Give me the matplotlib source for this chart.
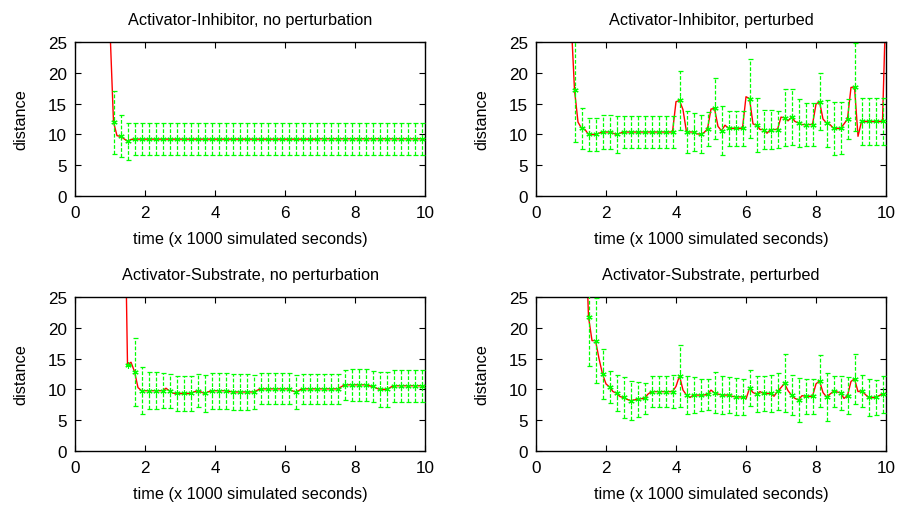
import numpy as np
import matplotlib
matplotlib.use("Agg")
import matplotlib.pyplot as plt

plt.rcParams['font.family'] = ['Liberation Sans', 'DejaVu Sans']

titles = ["Activator-Inhibitor, no perturbation", "Activator-Inhibitor, perturbed",
          "Activator-Substrate, no perturbation", "Activator-Substrate, perturbed"]
xlabel = "time (x 1000 simulated seconds)"
ylabel = "distance"
xticks = [0, 2, 4, 6, 8, 10]
yticks = [0, 5, 10, 15, 20, 25]

# mean distance sampled every 0.1 (x1000 s); start times per panel
line_start = [1.0, 1.0, 1.4, 1.4]

ai_plain_line = [
    27.0, 12.0, 9.8, 9.7, 9.3, 8.9, 9.2, 9.25, 9.25, 9.25,
    9.25, 9.25, 9.25, 9.25, 9.25, 9.25, 9.25, 9.25, 9.25, 9.25,
    9.25, 9.25, 9.25, 9.25, 9.25, 9.25, 9.25, 9.25, 9.25, 9.25,
    9.25, 9.25, 9.25, 9.25, 9.25, 9.25, 9.25, 9.25, 9.25, 9.25,
    9.25, 9.25, 9.25, 9.25, 9.25, 9.25, 9.25, 9.25, 9.25, 9.25,
    9.25, 9.25, 9.25, 9.25, 9.25, 9.25, 9.25, 9.25, 9.25, 9.25,
    9.3, 9.3, 9.3, 9.3, 9.3, 9.3, 9.3, 9.3, 9.3, 9.3,
    9.3, 9.3, 9.3, 9.3, 9.3, 9.3, 9.3, 9.3, 9.3, 9.3,
    9.3, 9.3, 9.3, 9.3, 9.3, 9.3, 9.3, 9.3, 9.3, 9.3,
    9.3]

ai_pert_line = [
    29.0, 17.2, 12.0, 11.0, 10.8, 10.0, 10.0, 10.0, 10.2, 10.4,
    10.4, 10.4, 10.2, 10.0, 10.2, 10.4, 10.4, 10.4, 10.4, 10.4,
    10.4, 10.4, 10.4, 10.4, 10.4, 10.4, 10.4, 10.4, 10.4, 10.4,
    15.3, 15.5, 14.0, 10.4, 10.4, 10.4, 10.1, 10.05, 10.3, 10.9,
    14.1, 14.2, 11.3, 10.6, 11.5, 11.0, 11.0, 11.0, 11.0, 11.0,
    16.1, 15.8, 11.7, 11.5, 10.8, 10.8, 10.2, 10.8, 10.8, 10.8,
    12.8, 12.7, 12.2, 12.8, 12.1, 11.85, 11.6, 11.6, 11.6, 11.6,
    14.9, 15.3, 12.5, 11.85, 11.6, 11.0, 11.0, 11.0, 11.7, 12.5,
    17.6, 17.7, 9.7, 12.1, 12.1, 12.1, 12.1, 12.1, 12.1, 12.1,
    32.0]

as_plain_line = [
    50.0, 14.0, 14.4, 12.9, 10.3, 9.8,
    9.8, 9.8, 9.8, 9.8, 9.8, 9.8, 10.2, 9.75, 9.4, 9.35,
    9.35, 9.35, 9.35, 9.35, 9.6, 9.8, 9.6, 9.35, 9.6, 9.8,
    9.8, 9.8, 9.8, 9.8, 9.7, 9.6, 9.6, 9.6, 9.6, 9.6,
    9.6, 9.6, 9.85, 10.1, 10.1, 10.1, 10.1, 10.1, 10.1, 10.1,
    10.1, 10.1, 9.8, 9.6, 9.85, 10.1, 10.1, 10.1, 10.1, 10.1,
    10.1, 10.1, 10.1, 10.1, 10.1, 10.1, 10.4, 10.75, 10.75, 10.75,
    10.75, 10.75, 10.75, 10.75, 10.6, 10.5, 10.25, 10.0, 10.0, 10.0,
    10.3, 10.6, 10.6, 10.6, 10.6, 10.6, 10.6, 10.6, 10.6, 10.6,
    10.6]

as_pert_line = [
    38.0, 21.75, 17.9, 17.9, 15.0, 12.5,
    10.9, 10.4, 9.65, 9.4, 8.85, 8.7, 8.4, 8.2, 8.3, 8.4,
    8.5, 8.6, 9.25, 9.65, 9.65, 9.65, 9.65, 9.65, 9.65, 9.65,
    10.5, 12.2, 9.9, 9.1, 8.7, 9.1, 9.1, 9.1, 9.1, 9.2,
    9.9, 9.45, 9.25, 9.1, 9.1, 9.1, 8.9, 8.8, 8.8, 8.8,
    8.45, 10.2, 9.5, 9.25, 9.65, 9.35, 9.35, 9.35, 8.9, 9.7,
    10.3, 11.0, 9.8, 9.1, 8.55, 8.3, 9.0, 8.9, 8.9, 8.9,
    10.9, 11.4, 9.5, 8.8, 9.25, 9.7, 9.6, 9.45, 8.55, 9.0,
    11.3, 11.7, 9.65, 9.8, 9.25, 8.7, 8.7, 8.7, 9.0, 9.25,
    9.4]

# error-bar half-widths at every other sample (0.2 spacing)
ai_plain_err = [
    5.1, 3.4, 3.0, 2.6, 2.6, 2.6, 2.6, 2.6, 2.6, 2.6,
    2.6, 2.6, 2.6, 2.6, 2.6, 2.6, 2.6, 2.6, 2.6, 2.6,
    2.6, 2.6, 2.6, 2.6, 2.6, 2.6, 2.6, 2.6, 2.6, 2.6,
    2.6, 2.6, 2.6, 2.6, 2.6, 2.6, 2.6, 2.6, 2.6, 2.6,
    2.6, 2.6, 2.6, 2.6, 2.6]
ai_pert_err = [
    8.4, 3.3, 2.7, 2.6, 2.75, 2.75, 2.95, 2.6, 2.6, 2.6,
    2.6, 2.6, 2.6, 2.6, 2.6, 4.8, 3.4, 3.1, 3.05, 2.7,
    5.0, 4.0, 2.8, 2.8, 2.8, 6.4, 4.4, 3.1, 3.1, 3.0,
    4.6, 4.5, 3.95, 3.5, 3.5, 4.6, 3.8, 4.3, 4.2, 3.3,
    7.1, 3.8, 3.8, 3.8, 3.8]
as_plain_err = [
    0.0, 5.5, 3.8, 2.95, 2.95, 2.8, 2.7, 2.9, 2.9, 2.9,
    2.7, 2.95, 2.9, 2.9, 2.9, 2.9, 2.9, 2.9, 2.8, 2.5,
    2.5, 2.5, 2.5, 2.5, 2.8, 2.4, 2.4, 2.4, 2.4, 2.4,
    2.4, 2.45, 2.55, 2.55, 2.55, 2.5, 2.8, 2.8, 2.55, 2.55,
    2.55, 2.55, 2.55]
as_pert_err = [
    8.0, 6.9, 4.0, 2.6, 2.9, 3.25, 3.1, 2.85, 2.5, 2.45,
    2.55, 2.55, 2.7, 5.0, 3.05, 2.85, 2.65, 2.5, 3.3, 3.0,
    2.95, 3.0, 2.95, 2.95, 2.9, 2.8, 2.95, 2.95, 4.7, 3.3,
    3.5, 2.85, 2.85, 4.2, 3.9, 2.55, 2.7, 3.0, 4.1, 2.6,
    3.0, 2.75, 3.0]

lines = [ai_plain_line, ai_pert_line, as_plain_line, as_pert_line]
errs = [ai_plain_err, ai_pert_err, as_plain_err, as_pert_err]

RED = "#ff0000"
GREEN = "#00ff00"

fig = plt.figure(figsize=(9.01, 5.10), dpi=100)
W, H = 901, 510
lefts = [75, 536, 75, 536]
tops = [42.7, 42.7, 297.7, 297.7]
aw, ah = 350, 154.6

for i in range(4):
    ax = fig.add_axes([lefts[i] / W, 1 - (tops[i] + ah) / H, aw / W, ah / H])
    vals = np.array(lines[i])
    t = line_start[i] + 0.1 * np.arange(len(vals))
    ax.plot(t, vals, color=RED, lw=1.0, zorder=2)
    tp = t[1::2][:len(errs[i])]
    mp = vals[1::2][:len(errs[i])]
    eb = ax.errorbar(tp, mp, yerr=errs[i], fmt='none', ecolor=GREEN,
                     elinewidth=0.9, capsize=1.8, capthick=0.9, zorder=3)
    for c in eb[2]:
        c.set_linestyle((0, (3, 1.5)))
    ax.plot(tp, mp, ls='none', marker=(6, 2, 0), ms=4.5, mew=0.8,
            color=GREEN, zorder=4)
    ax.set_xlim(0, 10)
    ax.set_ylim(0, 25)
    ax.set_xticks(xticks)
    ax.set_yticks(yticks)
    ax.tick_params(direction='in', length=4, width=0.8, top=True, right=True,
                   labelsize=12.3)
    ax.tick_params(axis='y', pad=6)
    ax.tick_params(axis='x', pad=6)
    for s in ax.spines.values():
        s.set_linewidth(1.0)
    ax.set_title(titles[i], fontsize=11.7, pad=12.5)
    ax.set_xlabel(xlabel, fontsize=11.7, labelpad=8)
    ax.set_ylabel(ylabel, fontsize=11.7, labelpad=14)

fig.savefig("out.png", dpi=100)
